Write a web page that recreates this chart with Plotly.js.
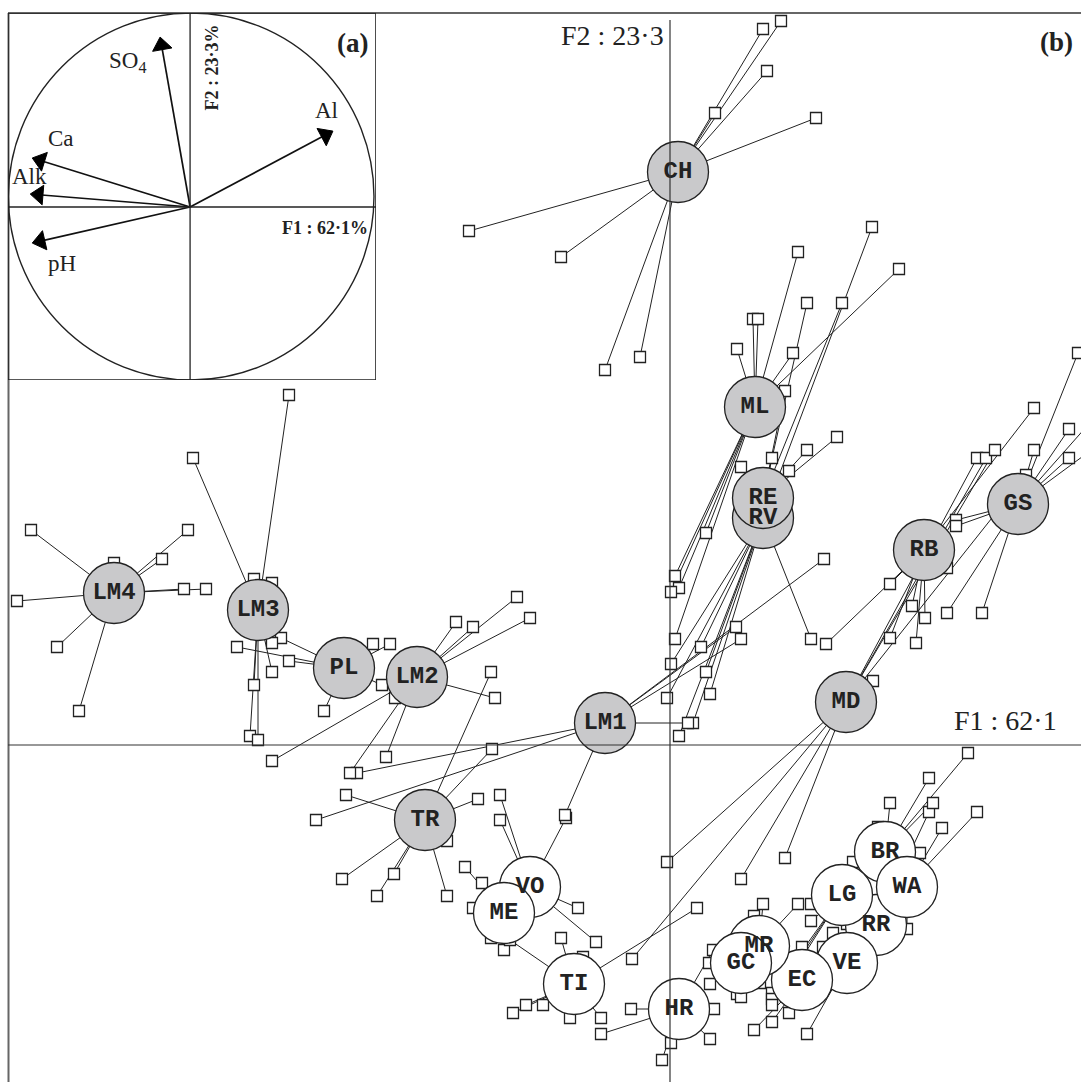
<!DOCTYPE html>
<html><head><meta charset="utf-8">
<script src="https://cdn.plot.ly/plotly-3.0.1.min.js"></script>
<style>html,body{margin:0;padding:0;background:#fff}#plot{width:1081px;height:1082px}</style>
</head><body><div id="plot"></div>
<script>
// ---- Group centroids (F1, F2 scores) ----
const groups = ['RR','BR','LG','WA','VE','EC','MR','GC','HR','VO','ME','TI','CH','ML','RV','RE','GS','RB','MD','LM1','LM2','PL','LM3','LM4','TR'];
const groupX = [2.06,2.15,1.72,2.37,1.77,1.32,0.89,0.71,0.09,-1.40,-1.66,-0.96,0.08,0.85,0.93,0.93,3.48,2.54,1.76,-0.65,-2.53,-3.26,-4.12,-5.56,-2.45];
const groupY = [-1.80,-1.07,-1.50,-1.42,-2.18,-2.35,-2.01,-2.18,-2.64,-1.42,-1.68,-2.39,5.73,3.38,2.27,2.47,2.41,1.95,0.43,0.22,0.68,0.77,1.35,1.52,-0.75];
const groupShade = ['w','w','w','w','w','w','w','w','w','w','w','w','g','g','g','g','g','g','g','g','g','g','g','g','g'];

// ---- Samples of each group (F1, F2) ----
const CH_pts = [[-2.01,5.14],[-1.09,4.88],[-0.65,3.75],[-0.30,3.88],[0.45,6.32],[0.93,7.16],[1.11,7.24],[0.97,6.74],[1.46,6.27]];
const ML_pts = [[0.67,3.96],[0.83,4.26],[0.88,4.26],[1.23,3.92],[1.28,4.93],[2.29,4.76],[0.36,2.12],[0.05,1.69],[0.09,1.57],[0.01,1.53],[0.05,1.06]];
const RE_pts = [[0.71,2.78],[1.02,2.87],[1.19,2.74],[1.37,2.95],[1.67,3.08],[1.15,3.54],[1.72,4.42],[1.37,4.42]];
const RV_pts = [[2.02,5.18],[1.41,1.06],[0.36,0.73],[0.40,0.51],[0.23,0.22],[0.09,0.09],[0.01,0.81],[-0.03,0.47],[0.31,0.98]];
const LM1_pts = [[1.54,1.86],[0.66,1.18],[0.71,1.06],[0.18,0.22],[-1.05,-0.70],[-3.13,-0.28],[-3.54,-0.75]];
const LM2_pts = [[-1.53,1.48],[-1.40,1.27],[-2.14,1.23],[-1.97,1.18],[-1.75,0.47],[-2.75,0.47],[-3.98,-0.16],[-3.20,-0.28],[-2.84,-0.12]];
const PL_pts = [[-3.89,1.07],[-4.33,0.98],[-3.81,0.84],[-3.46,0.34],[-2.97,1.01],[-2.80,1.01],[-2.88,0.60]];
const LM3_pts = [[-3.81,3.50],[-4.77,2.87],[-4.16,1.66],[-3.98,1.62],[-3.98,1.02],[-3.98,0.73],[-4.16,0.60],[-4.20,0.09],[-4.12,0.05]];
const LM4_pts = [[-6.39,2.15],[-4.82,2.15],[-5.08,1.86],[-5.56,1.82],[-4.86,1.56],[-4.64,1.56],[-6.53,1.44],[-6.13,0.98],[-5.91,0.34]];
const TR_pts = [[-3.24,-0.50],[-1.92,-0.54],[-1.78,-0.04],[-1.79,0.73],[-3.28,-1.34],[-2.76,-1.29],[-2.93,-1.51],[-2.23,-1.51],[-2.23,-0.96]];
const VO_pts = [[-1.70,-0.50],[-1.70,-0.75],[-1.04,-0.73],[-1.44,-1.59],[-0.92,-1.63],[-0.74,-1.97]];
const ME_pts = [[-2.05,-1.22],[-1.88,-1.38],[-1.97,-1.63],[-1.79,-1.93],[-1.66,-2.05]];
const TI_pts = [[-1.09,-1.93],[-0.87,-2.12],[-1.44,-2.60],[-1.27,-2.60],[-1.57,-2.68],[-1.00,-2.73],[-0.69,-2.73],[0.27,-1.63],[-1.60,-1.95]];
const MD_pts = [[3.07,2.87],[3.16,2.87],[3.25,2.95],[3.56,2.70],[2.03,0.64],[-0.03,-1.17],[0.71,-1.34],[1.15,-1.13],[-0.38,-2.14]];
const RB_pts = [[3.64,3.37],[2.20,1.61],[2.42,1.39],[2.55,1.27],[2.20,1.07],[2.46,1.02],[1.56,1.01],[2.77,1.77]];
const GS_pts = [[4.08,3.92],[3.64,2.95],[3.99,3.16],[3.99,2.87],[2.86,2.25],[2.86,2.19],[2.77,1.32],[3.12,1.32],[4.40,3.45],[4.35,3.05]];
const BR_pts = [[2.98,-0.08],[2.59,-0.33],[2.20,-0.58],[2.63,-0.58],[2.08,-0.82],[1.83,-1.17]];
const WA_pts = [[3.07,-0.67],[2.72,-0.83],[2.50,-1.08],[2.37,-1.84]];
const RR_pts = [[1.77,-1.79],[1.88,-1.79],[2.59,-0.67]];
const LG_pts = [[1.41,-1.76],[1.02,-2.48],[1.02,-2.54],[1.02,-2.60],[1.41,-1.59]];
const VE_pts = [[1.63,-1.88],[1.53,-2.02],[1.37,-2.89]];
const EC_pts = [[1.32,-2.02],[1.19,-2.68],[1.02,-2.77],[0.84,-2.85]];
const MR_pts = [[0.93,-1.59],[1.28,-1.59],[0.84,-1.71],[0.90,-2.38]];
const GC_pts = [[0.39,-2.18],[0.40,-2.39],[0.67,-2.49],[0.71,-2.52]];
const HR_pts = [[-0.39,-2.64],[0.44,-2.64],[0.40,-2.94],[0.01,-2.98],[-0.08,-3.15],[-0.69,-2.89],[0.43,-2.05]];

// ---- Correlation circle (inset a): variable loadings on F1, F2 ----
const varNames = ['SO<sub>4</sub>','Al','Ca','Alk','pH'];
const loadF1 = [-0.164, 0.781, -0.863, -0.874, -0.863];
const loadF2 = [0.929, 0.415, 0.268, 0.071, -0.197];
const varLabelX = [-0.344, 0.743, -0.705, -0.880, -0.699];
const varLabelY = [0.792, 0.525, 0.372, 0.169, -0.311];

const samplesByGroup = {CH:CH_pts,ML:ML_pts,RE:RE_pts,RV:RV_pts,LM1:LM1_pts,LM2:LM2_pts,PL:PL_pts,LM3:LM3_pts,LM4:LM4_pts,TR:TR_pts,VO:VO_pts,ME:ME_pts,TI:TI_pts,MD:MD_pts,RB:RB_pts,GS:GS_pts,BR:BR_pts,WA:WA_pts,RR:RR_pts,LG:LG_pts,VE:VE_pts,EC:EC_pts,MR:MR_pts,GC:GC_pts,HR:HR_pts};

const ink = '#222';
const traces = [];
const lx = [], ly = [], sx = [], sy = [];
groups.forEach((g, i) => {
  samplesByGroup[g].forEach(p => {
    lx.push(groupX[i], p[0], null); ly.push(groupY[i], p[1], null);
    sx.push(p[0]); sy.push(p[1]);
  });
});
traces.push({x: lx, y: ly, mode: 'lines', line: {color: ink, width: 1}, hoverinfo: 'skip', showlegend: false});
traces.push({x: sx, y: sy, mode: 'markers', marker: {symbol: 'square', size: 11, color: '#fff', line: {color: ink, width: 1.3}}, hoverinfo: 'skip', showlegend: false});
traces.push({x: groupX, y: groupY, mode: 'markers',
  marker: {size: 61, color: groupShade.map(s => s === 'g' ? '#c9c9cb' : '#ffffff'), line: {color: ink, width: 1.3}},
  hoverinfo: 'skip', showlegend: false, cliponaxis: false});
traces.push({x: groupX, y: groupY, mode: 'text', text: groups.map(g => '<b>' + g + '</b>'),
  textposition: 'middle center', textfont: {family: 'Liberation Mono, Courier New, monospace', size: 24, color: ink},
  hoverinfo: 'skip', showlegend: false, cliponaxis: false});

// loading arrows in inset: triangle head whose tip sits on the loading
const headBack = 0.047;
loadF1.forEach((v, i) => {
  const w = loadF2[i], len = Math.hypot(v, w), k = 1 - headBack / len;
  traces.push({x: [0, v * k], y: [0, w * k], xaxis: 'x2', yaxis: 'y2', mode: 'lines+markers',
    line: {color: '#111', width: 1.7},
    marker: {symbol: ['circle', 'triangle-up'], size: [0, 17], angleref: 'previous', color: '#000', opacity: 1, line: {color: '#000', width: 1}},
    hoverinfo: 'skip', showlegend: false, cliponaxis: false});
});

const serif = 'Liberation Serif, Times New Roman, serif';
const annotations = [];
varNames.forEach((t, i) => {
  annotations.push({xref: 'x2', yref: 'y2', x: varLabelX[i], y: varLabelY[i], text: t, showarrow: false,
    font: {family: serif, size: 23, color: ink}});
});
annotations.push({xref: 'x2', yref: 'y2', x: 0.118, y: 0.76, text: '<b>F2 : 23·3%</b>', textangle: -90, showarrow: false, font: {family: serif, size: 18, color: ink}});
annotations.push({xref: 'x2', yref: 'y2', x: 0.735, y: -0.115, text: '<b>F1 : 62·1%</b>', showarrow: false, font: {family: serif, size: 18, color: ink}});
annotations.push({xref: 'x2', yref: 'y2', x: 0.885, y: 0.895, text: '<b>(a)</b>', showarrow: false, font: {family: serif, size: 27, color: ink}});
annotations.push({xref: 'x', yref: 'y', x: -0.04, y: 7.10, xanchor: 'right', text: 'F2 : 23·3', showarrow: false, font: {family: serif, size: 28, color: ink}});
annotations.push({xref: 'x', yref: 'y', x: 2.82, y: 0.25, xanchor: 'left', text: 'F1 : 62·1', showarrow: false, font: {family: serif, size: 28, color: ink}});
annotations.push({xref: 'x', yref: 'y', x: 3.86, y: 7.03, text: '<b>(b)</b>', showarrow: false, font: {family: serif, size: 27, color: ink}});

const shapes = [
  {type: 'line', xref: 'paper', yref: 'paper', x0: 8/1081, x1: 1, y0: 1-13/1082, y1: 1-13/1082, line: {color: '#333', width: 1.5}},
  {type: 'line', xref: 'paper', yref: 'paper', x0: 8.5/1081, x1: 8.5/1081, y0: 0, y1: 1-13/1082, line: {color: '#666', width: 2}},
  {type: 'line', xref: 'x', yref: 'y', x0: 0, x1: 0, y0: -3.4, y1: 7.25, line: {color: '#333', width: 1.2}},
  {type: 'line', xref: 'x', yref: 'y', x0: -6.62, x1: 4.2, y0: 0, y1: 0, line: {color: '#333', width: 1.2}},
  {type: 'rect', xref: 'x2', yref: 'y2', x0: -0.995, x1: 1.016, y0: -0.945, y1: 1.06, line: {color: '#222', width: 1.6}, fillcolor: 'rgba(0,0,0,0)'},
  {type: 'circle', xref: 'x2', yref: 'y2', x0: -0.993, x1: 1.005, y0: -0.945, y1: 1.06, line: {color: '#222', width: 1.4}},
  {type: 'line', xref: 'x2', yref: 'y2', x0: 0, x1: 0, y0: -0.945, y1: 1.06, line: {color: '#222', width: 1.3}},
  {type: 'line', xref: 'x2', yref: 'y2', x0: -0.995, x1: 1.016, y0: 0, y1: 0, line: {color: '#222', width: 1.3}}
];

const hidden = {showgrid: false, zeroline: false, showticklabels: false, showline: false, ticks: ''};
const layout = {
  width: 1081, height: 1082, margin: {l: 0, r: 0, t: 0, b: 0},
  paper_bgcolor: '#fff', plot_bgcolor: 'rgba(0,0,0,0)', hovermode: false, showlegend: false,
  xaxis: Object.assign({range: [-6.70, 4.11], domain: [0, 1]}, hidden),
  yaxis: Object.assign({range: [-3.37, 7.45], domain: [0, 1]}, hidden),
  xaxis2: Object.assign({range: [-0.995, 1.016], domain: [8/1081, 376/1081], anchor: 'y2'}, hidden),
  yaxis2: Object.assign({range: [-0.945, 1.06], domain: [1-380/1082, 1-13/1082], anchor: 'x2'}, hidden),
  shapes: shapes, annotations: annotations
};
Plotly.newPlot('plot', traces, layout, {staticPlot: true, displayModeBar: false});
</script></body></html>
